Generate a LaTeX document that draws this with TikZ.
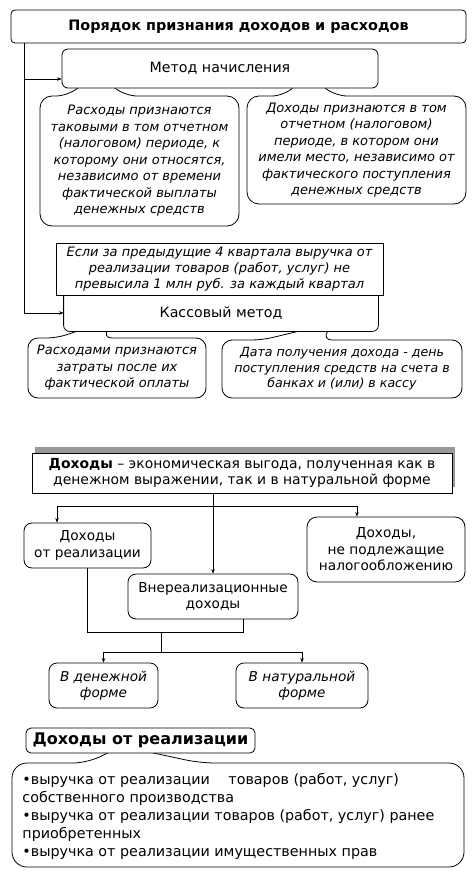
\documentclass[tikz,border=0pt]{standalone}
\usepackage{fontspec}
\setmainfont{DejaVu Sans}
\usetikzlibrary{arrows.meta,shadows,calc}
\begin{document}
\begin{tikzpicture}[x=1pt,y=-1pt,
  line width=0.8pt,
  box/.style={draw, fill=white, rounded corners=#1, align=center, inner sep=0pt,
    font=\fontsize{13.7}{16.5}\selectfont},
  box/.default=7pt,
  txt/.style={align=center, inner sep=0pt, font=\fontsize{13}{16.5}\selectfont\itshape},
  callout/.style={draw, fill=white, rounded corners=#1},
  callout/.default=12pt,
  arr/.style={-{Stealth[length=4.5pt,width=3.5pt]}, line width=0.7pt},
  conn/.style={line width=0.7pt}
]
\fill[white] (0,0) rectangle (475,875);
\useasboundingbox (0,0) rectangle (475,875);

% ---------- top section: callouts under "Метод начисления"
\draw[callout] (40,161) -- (40,96) -- (68,96) -- (96,73) -- (125,96) -- (239,96) -- (239,226) -- (40,226) -- cycle;
\draw[callout] (247,150) -- (247,96) -- (284,96) -- (308,74) -- (335,96) -- (466,96) -- (466,204) -- (247,204) -- cycle;
\node[txt] (c1) at (139.5,161) {Расходы признаются\\таковыми в том отчетном\\(налоговом) периоде, к\\которому они относятся,\\независимо от времени\\фактической выплаты\\денежных средств};
\node[txt] (c2) at (356.5,150) {Доходы признаются в том\\отчетном (налоговом)\\периоде, в котором они\\имели место, независимо от\\фактического поступления\\денежных средств};

\node[box=4pt, minimum width=455pt, minimum height=33pt, font=\fontsize{14.4}{16}\selectfont\bfseries] (title) at (238.5,26.5) {Порядок признания доходов и расходов};
\node[box=6pt, minimum width=316pt, minimum height=39pt, font=\fontsize{14.2}{16.5}\selectfont] (metod) at (220,68.5) {Метод начисления};

% ---------- cash method
\draw[callout=10pt] (28,368) -- (28,338) -- (57,338) -- (116,318) -- (102,338) -- (206,338) -- (206,398) -- (28,398) -- cycle;
\draw[callout=10pt] (222,369) -- (222,340) -- (262,340) -- (333,323) -- (322,340) -- (462,340) -- (462,398) -- (222,398) -- cycle;
\node[txt] (c3) at (117,368) {Расходами признаются\\затраты после их\\фактической оплаты};
\node[txt, font=\fontsize{12.6}{15.5}\selectfont\itshape] (c4) at (342,369) {Дата получения дохода - день\\поступления средств на счета в\\банках и (или) в кассу};

\node[fill=white, inner sep=0pt, minimum width=314pt, minimum height=36pt, font=\fontsize{14.2}{16.5}\selectfont] (kassa) at (221,313) {Кассовый метод};
\draw[rounded corners=6pt] (kassa.north west) -- (kassa.south west) -- (kassa.south east) -- (kassa.north east);
\node[draw, fill=white, inner sep=0pt, minimum width=327pt, minimum height=52pt, align=center, font=\fontsize{13}{16}\selectfont\itshape] (esli) at (219.5,269) {Если за предыдущие 4 квартала выручка от\\реализации товаров (работ, услуг) не\\превысила 1 млн руб. за каждый квартал};

\draw[arr] ([xshift=14pt]title.south west) |- ($(metod.west)+(0,10.5)$);
\draw[arr] ([xshift=14pt]title.south west) |- (kassa.west);

% ---------- income section
\node[draw, fill=white, inner sep=0pt, minimum width=420pt, minimum height=40pt, align=center,
  font=\fontsize{13.9}{16.5}\selectfont,
  drop shadow={shadow xshift=3pt, shadow yshift=6pt, fill=black!40, opacity=1}] (def) at (242,473)
  {\textbf{Доходы} – экономическая выгода, полученная как в\\денежном выражении, так и в натуральной форме};

\node[box=8pt, minimum width=127pt, minimum height=45pt] (r1) at (87.5,545.5) {Доходы\\от реализации};
\node[box=10pt, minimum width=158pt, minimum height=65pt] (r3) at (386,549.5) {Доходы,\\не подлежащие\\налогообложению};
\node[box=8pt, minimum width=170pt, minimum height=45pt] (r2) at (213,596.5) {Внереализационные\\доходы};
\node[box=8pt, minimum width=109pt, minimum height=45pt, font=\fontsize{13.6}{16.5}\selectfont\itshape] (f1) at (103.5,685.5) {В денежной\\форме};
\node[box=8pt, minimum width=132pt, minimum height=45pt, font=\fontsize{13.6}{16.5}\selectfont\itshape] (f2) at (302,685.5) {В натуральной\\форме};

\coordinate (hb) at (213,506);
\draw[arr] (def.south -| r2.north) -- (r2.north);
\draw[arr] (hb) -| ([xshift=-30.5pt]r1.north);
\draw[arr] (hb) -| ([xshift=-29pt]r3.north);
\coordinate (j1) at (161,632);
\coordinate (j2) at (161,652);
\draw[conn] (r1.south) |- (j1);
\draw[conn] (j1) -| ([xshift=30pt]r2.south);
\draw[conn] (j1) -- (j2);
\draw[arr] (j2) -| (f1.north);
\draw[arr] (j2) -| (f2.north);

% ---------- list
\draw[callout=15pt] (12,815) -- (12,763) -- (88,763) -- (121,746) -- (200,763) -- (464,763) -- (464,867) -- (12,867) -- cycle;
\node[box=5pt, minimum width=229pt, minimum height=25pt, font=\fontsize{16}{18}\selectfont\bfseries] (hdr) at (140.5,740.5) {Доходы от реализации};
\node[anchor=west, align=left, inner sep=0pt, font=\fontsize{14.3}{18}\selectfont] (c5) at (22,816)
  {•выручка от реализации\hspace{14pt} товаров (работ, услуг)\\собственного производства\\•выручка от реализации товаров (работ, услуг) ранее\\приобретенных\\•выручка от реализации имущественных прав};
\end{tikzpicture}
\end{document}
